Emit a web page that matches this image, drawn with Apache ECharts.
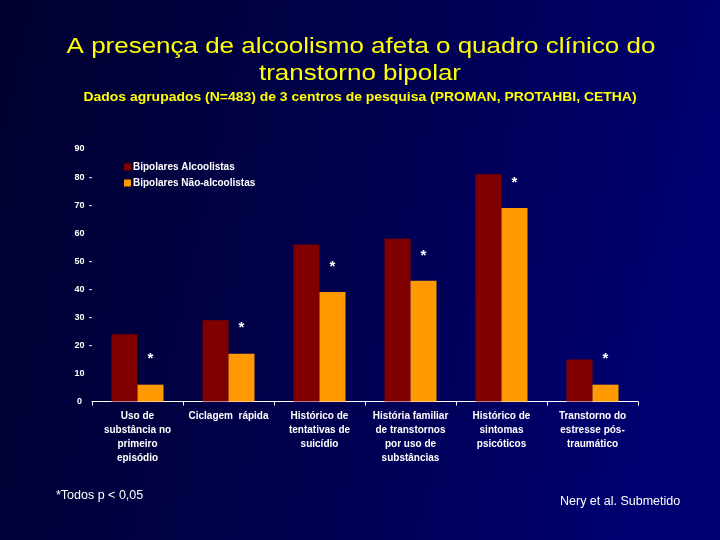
<!DOCTYPE html>
<html>
<head>
<meta charset="utf-8">
<script src="https://cdn.jsdelivr.net/npm/echarts@6/dist/echarts.min.js"></script>
<style>
html,body{margin:0;padding:0;background:#000040;}
#chart{width:720px;height:540px;}
</style>
</head>
<body>
<div id="chart"></div>
<script>
var titleLines = ['A presença de alcoolismo afeta o quadro clínico do', 'transtorno bipolar'];
var subtitle = 'Dados agrupados (N=483) de 3 centros de pesquisa (PROMAN, PROTAHBI, CETHA)';
var categories = [
  'Uso de\nsubstância no\nprimeiro\nepisódio',
  'Ciclagem  rápida',
  'Histórico de\ntentativas de\nsuicídio',
  'História familiar\nde transtornos\npor uso de\nsubstâncias',
  'Histórico de\nsintomas\npsicóticos',
  'Transtorno do\nestresse pós-\ntraumático'
];
var seriesNames = ['Bipolares Alcoolistas', 'Bipolares Não-alcoolistas'];
var alcoolistas = [24, 29, 56, 58, 81, 15];
var naoAlcoolistas = [6, 17, 39, 43, 69, 6];
var significance = ['*', '*', '*', '*', '*', '*'];
var yTicksWithDash = [80, 70, 50, 40, 30, 20];

var chart = echarts.init(document.getElementById('chart'));
var labelFont = 'Liberation Sans, Arial, sans-serif';
var narrowFont = 'Liberation Sans Narrow, Arial Narrow, sans-serif';
chart.setOption({
  backgroundColor: {
    type: 'linear', x: 0, y: 0, x2: 1, y2: 0.3,
    colorStops: [
      {offset: 0, color: '#00002e'},
      {offset: 0.5, color: '#00004c'},
      {offset: 1, color: '#000072'}
    ]
  },
  animation: false,
  graphic: [
    {type: 'text', x: 361, y: 46.5, scaleX: 1.18, style: {text: titleLines[0], fill: '#FFFF00', font: '22px ' + labelFont, textAlign: 'center', textVerticalAlign: 'middle'}},
    {type: 'text', x: 360, y: 73.5, scaleX: 1.18, style: {text: titleLines[1], fill: '#FFFF00', font: '22px ' + labelFont, textAlign: 'center', textVerticalAlign: 'middle'}},
    {type: 'text', x: 360, y: 98, scaleX: 1.115, style: {text: subtitle, fill: '#FFFF00', font: 'bold 12.5px ' + labelFont, textAlign: 'center', textVerticalAlign: 'middle'}},
    {type: 'text', x: 56, y: 496, style: {text: '*Todos p < 0,05', fill: '#ffffff', font: '12.5px ' + narrowFont, textAlign: 'left', textVerticalAlign: 'middle'}},
    {type: 'text', x: 560, y: 502, style: {text: 'Nery et al. Submetido', fill: '#ffffff', font: '12.5px ' + narrowFont, textAlign: 'left', textVerticalAlign: 'middle'}}
  ],
  legend: {
    orient: 'vertical', left: 119, top: 157,
    itemWidth: 7, itemHeight: 7, itemGap: 6,
    icon: 'rect',
    textStyle: {color: '#ffffff', fontSize: 10, fontWeight: 'bold', fontFamily: labelFont, padding: [0,0,0,-3]},
    data: seriesNames
  },
  grid: {left: 92, right: 82, top: 149, bottom: 138.5},
  xAxis: {
    type: 'category',
    data: categories,
    axisLine: {lineStyle: {color: '#ffffff', width: 1}},
    axisTick: {show: true, length: 4, lineStyle: {color: '#ffffff'}},
    axisLabel: {color: '#ffffff', fontSize: 10, fontWeight: 'bold', fontFamily: labelFont, lineHeight: 14, margin: 8, interval: 0}
  },
  yAxis: {
    type: 'value', min: 0, max: 90, interval: 10,
    axisLine: {show: false},
    axisTick: {show: false},
    splitLine: {show: false},
    axisLabel: {
      align: 'left', margin: 18,
      formatter: function (v) {
        return '{n|' + v + '}{d|' + (yTicksWithDash.indexOf(v) >= 0 ? '-' : '') + '}';
      },
      rich: {
        n: {color: '#ffffff', fontSize: 9, fontWeight: 'bold', fontFamily: labelFont, width: 11, align: 'right'},
        d: {color: '#ffffff', fontSize: 9, fontWeight: 'bold', fontFamily: labelFont, padding: [0, 0, 0, 4]}
      }
    }
  },
  series: [
    {
      name: seriesNames[0], type: 'bar', data: alcoolistas,
      barWidth: 26, barGap: '0%',
      itemStyle: {color: '#800000'}
    },
    {
      name: seriesNames[1], type: 'bar', data: naoAlcoolistas,
      barWidth: 26,
      itemStyle: {color: '#FF9900'},
      label: {
        show: true, position: 'top', distance: 18,
        formatter: function (p) { return significance[p.dataIndex]; },
        color: '#ffffff', fontSize: 15, fontWeight: 'bold', fontFamily: labelFont
      }
    }
  ]
});
</script>
</body>
</html>
